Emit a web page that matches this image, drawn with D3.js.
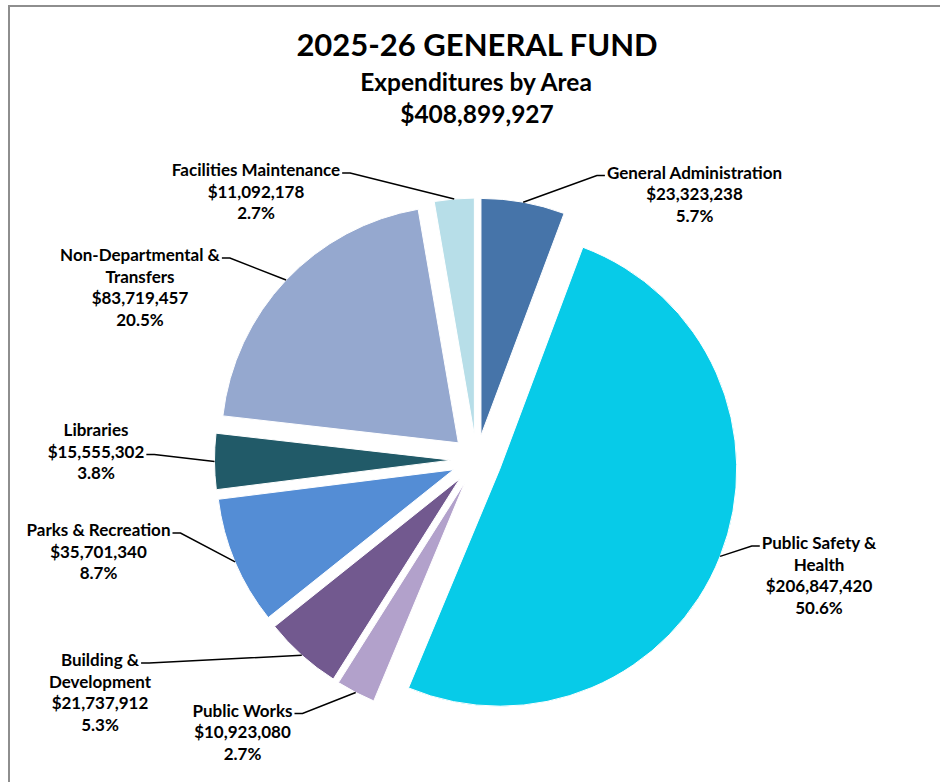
<!DOCTYPE html>
<html>
<head>
<meta charset="utf-8">
<script src="https://cdn.jsdelivr.net/npm/d3@7"></script>
<style>
  body { margin: 0; background: #fff; }
  svg { display: block; }
  text { font-family: Lato, "Open Sans", sans-serif; font-weight: 700; fill: #000; }
</style>
</head>
<body>
<svg id="chart" width="940" height="782"></svg>
<script>
// General fund expenditures by area, FY 2025-26
const titleLines = ["2025-26 GENERAL FUND", "Expenditures by Area"];
const categories = [
  "General Administration",
  "Public Safety & Health",
  "Public Works",
  "Building & Development",
  "Parks & Recreation",
  "Libraries",
  "Non-Departmental & Transfers",
  "Facilities Maintenance"
];
// category names as they wrap in the labels
const nameLines = [
  ["General Administration"],
  ["Public Safety &", "Health"],
  ["Public Works"],
  ["Building &", "Development"],
  ["Parks & Recreation"],
  ["Libraries"],
  ["Non-Departmental &", "Transfers"],
  ["Facilities Maintenance"]
];
const values = [23323238, 206847420, 10923080, 21737912, 35701340, 15555302, 83719457, 11092178];
const colors = ["#4674A9", "#07CBE8", "#B2A1CB", "#72598F", "#548DD5", "#215A68", "#95A8CF", "#B7DEE8"];

// label placement: centre x, first baseline, which end of which line the leader leaves from
const labelPos = [
  { x: 694.5, y: 178.5, side: "left",  line: 0 },
  { x: 819,   y: 549,   side: "left",  line: 0 },
  { x: 242.5, y: 716.5, side: "right", line: 0 },
  { x: 100,   y: 666,   side: "right", line: 0 },
  { x: 98.5,  y: 536,   side: "right", line: 0 },
  { x: 96,    y: 436,   side: "right", line: 1 },
  { x: 140,   y: 261,   side: "right", line: 0 },
  { x: 256,   y: 176,   side: "right", line: 0 }
];

const svg = d3.select("#chart");
const W = 940, H = 782;
const cx = 476.5, cy = 460, R = 237, explode = 25;
const lineH = 21.6;

// frame
svg.append("path")
  .attr("d", `M9,${H + 5}V6H${W + 5}`)
  .attr("fill", "none")
  .attr("stroke", "#8e8e8e")
  .attr("stroke-width", 2);

// titles
const total = d3.sum(values);
const fmtMoney = v => "$" + d3.format(",")(v);
const fmtPct = d3.format(".1%");

svg.append("text").attr("x", 477).attr("y", 56).attr("text-anchor", "middle")
  .style("font-size", "31px").text(titleLines[0]);
svg.append("text").attr("x", 476).attr("y", 90.5).attr("text-anchor", "middle")
  .style("font-size", "24.5px").text(titleLines[1]);
svg.append("text").attr("x", 477).attr("y", 122.5).attr("text-anchor", "middle")
  .style("font-size", "24.5px").text(fmtMoney(total));

// exploded pie
const pie = d3.pie().sort(null).value(d => d);
const arcs = pie(values);
const arc = d3.arc().innerRadius(0).outerRadius(R);

const g = svg.append("g").attr("transform", `translate(${cx},${cy})`);
const off = a => {
  const m = (a.startAngle + a.endAngle) / 2;
  return [Math.sin(m) * explode, -Math.cos(m) * explode];
};

g.selectAll("path.slice")
  .data(arcs)
  .join("path")
  .attr("class", "slice")
  .attr("transform", d => `translate(${off(d)})`)
  .attr("d", arc)
  .attr("fill", (d, i) => colors[i])
  .attr("stroke", "#fff")
  .attr("stroke-width", 1);

// data labels with leader lines
arcs.forEach((a, i) => {
  const p = labelPos[i];
  const lines = nameLines[i].concat([fmtMoney(values[i]), fmtPct(values[i] / total)]);
  const t = svg.append("g");
  const nodes = lines.map((s, k) =>
    t.append("text")
      .attr("x", p.x)
      .attr("y", p.y + k * lineH)
      .attr("text-anchor", "middle")
      .style("font-size", "17px")
      .text(s).node());

  const w = nodes[p.line].getComputedTextLength();
  const ly = p.y + p.line * lineH - 3;
  const dir = p.side === "right" ? 1 : -1;
  const x0 = p.x + dir * (w / 2 + 2);
  const x1 = x0 + dir * 8;
  const m = (a.startAngle + a.endAngle) / 2;
  const o = off(a);
  const ex = cx + o[0] + Math.sin(m) * R;
  const ey = cy + o[1] - Math.cos(m) * R;

  svg.append("path")
    .attr("d", `M${x0},${ly}H${x1}L${ex},${ey}`)
    .attr("fill", "none")
    .attr("stroke", "#000")
    .attr("stroke-width", 1.5);
});
</script>
</body>
</html>
